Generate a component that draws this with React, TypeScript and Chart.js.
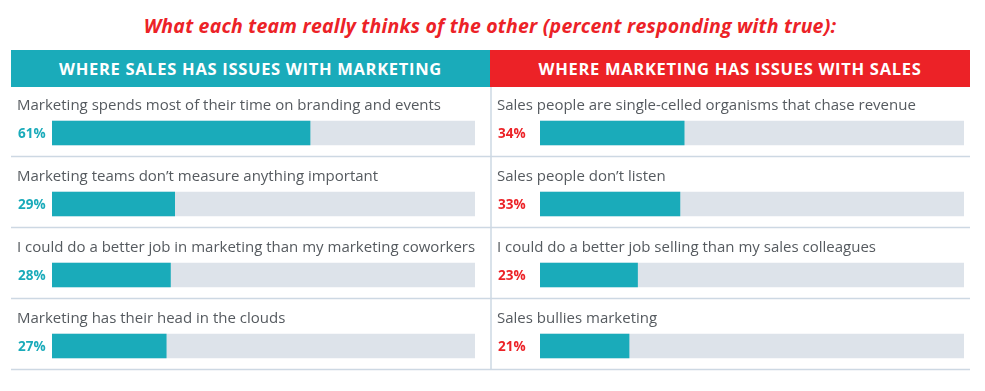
import React, { useEffect, useRef } from "react";
import { Chart, registerables } from "chart.js";

Chart.register(...registerables);

const titleText = "What each team really thinks of the other (percent responding with true):";
const leftHeader = "WHERE SALES HAS ISSUES WITH MARKETING";
const rightHeader = "WHERE MARKETING HAS ISSUES WITH SALES";

const leftLabels = [
  "Marketing spends most of their time on branding and events",
  "Marketing teams don\u2019t measure anything important",
  "I could do a better job in marketing than my marketing coworkers",
  "Marketing has their head in the clouds",
];
const leftValues = [61, 29, 28, 27];

const rightLabels = [
  "Sales people are single-celled organisms that chase revenue",
  "Sales people don\u2019t listen",
  "I could do a better job selling than my sales colleagues",
  "Sales bullies marketing",
];
const rightValues = [34, 33, 23, 21];

const trackMax = 100;

const TEAL = "#1aabba";
const RED = "#ec2227";
const TRACK = "#dde3ea";
const LINE = "#cdd8e3";
const TEXT = "#555a5f";
const FONT = "'Open Sans', 'Noto Sans', sans-serif";

type PanelProps = {
  labels: string[];
  values: number[];
  pctColor: string;
  left: number;
  width: number;
  padLeft: number;
  padRight: number;
  textX: number;
  divider: boolean;
};

function Panel(props: PanelProps) {
  const ref = useRef<HTMLCanvasElement | null>(null);
  useEffect(() => {
    if (!ref.current) return;
    const { labels, values, pctColor, textX, divider } = props;
    const rowPlugin = {
      id: "rowText",
      beforeDatasetsDraw(chart: any) {
        const ctx = chart.ctx;
        const y = chart.scales.y;
        ctx.save();
        ctx.strokeStyle = LINE;
        ctx.lineWidth = 1.5;
        labels.forEach((_, i) => {
          const cy = y.getPixelForValue(i);
          ctx.beginPath();
          ctx.moveTo(0, cy + 23.5);
          ctx.lineTo(chart.width, cy + 23.5);
          ctx.stroke();
        });
        if (divider) {
          const last = y.getPixelForValue(labels.length - 1) + 23.5;
          ctx.beginPath();
          ctx.moveTo(1, 0);
          ctx.lineTo(1, last);
          ctx.stroke();
        }
        ctx.restore();
      },
      afterDatasetsDraw(chart: any) {
        const ctx = chart.ctx;
        const y = chart.scales.y;
        ctx.save();
        ctx.textBaseline = "middle";
        ctx.textAlign = "left";
        labels.forEach((lab, i) => {
          const cy = y.getPixelForValue(i);
          ctx.fillStyle = TEXT;
          ctx.font = `400 15px ${FONT}`;
          ctx.fillText(lab, textX, cy - 27);
          ctx.fillStyle = pctColor;
          ctx.font = `700 13.5px ${FONT}`;
          ctx.fillText(values[i] + "%", textX + 1, cy + 1);
        });
        ctx.restore();
      },
    };
    const chart = new Chart(ref.current, {
      type: "bar",
      data: {
        labels,
        datasets: [
          {
            data: values,
            backgroundColor: TEAL,
            barThickness: 24,
            grouped: false,
            order: 0,
          } as any,
          {
            data: labels.map(() => trackMax),
            backgroundColor: TRACK,
            barThickness: 24,
            grouped: false,
            order: 1,
          } as any,
        ],
      },
      options: {
        indexAxis: "y",
        responsive: false,
        maintainAspectRatio: false,
        animation: false,
        layout: {
          padding: { left: props.padLeft, right: props.padRight, top: 10.5, bottom: 0.5 },
        },
        scales: {
          x: { min: 0, max: trackMax, display: false },
          y: { display: false },
        },
        plugins: { legend: { display: false }, tooltip: { enabled: false } },
      },
      plugins: [rowPlugin],
    });
    return () => chart.destroy();
  }, []);
  return (
    <canvas
      ref={ref}
      width={props.width}
      height={295}
      style={{ position: "absolute", left: props.left, top: 87, width: props.width, height: 295 }}
    />
  );
}

export default function App() {
  const headerStyle: React.CSSProperties = {
    position: "absolute",
    top: 50,
    height: 37,
    lineHeight: "37px",
    color: "#fff",
    fontFamily: FONT,
    fontWeight: 700,
    fontSize: 16.5,
    textAlign: "center",
    letterSpacing: 0.7,
  };
  return (
    <div
      style={{
        position: "absolute",
        left: 0,
        top: 0,
        width: 985,
        height: 391,
        background: "#fff",
        overflow: "hidden",
      }}
    >
      <div
        style={{
          position: "absolute",
          top: 11,
          left: 0,
          width: 980,
          textAlign: "center",
          color: RED,
          fontFamily: FONT,
          fontWeight: 700,
          fontStyle: "italic",
          fontSize: 19.5,
          letterSpacing: 0.2,
          lineHeight: "30px",
        }}
      >
        {titleText}
      </div>
      <div style={{ ...headerStyle, left: 11, width: 479, background: TEAL }}>{leftHeader}</div>
      <div style={{ ...headerStyle, left: 490, width: 480, background: RED }}>{rightHeader}</div>
      <Panel
        labels={leftLabels}
        values={leftValues}
        pctColor={TEAL}
        left={11}
        width={479}
        padLeft={41}
        padRight={15}
        textX={6}
        divider={false}
      />
      <Panel
        labels={rightLabels}
        values={rightValues}
        pctColor={RED}
        left={490}
        width={480}
        padLeft={50}
        padRight={6}
        textX={7}
        divider={true}
      />
    </div>
  );
}
